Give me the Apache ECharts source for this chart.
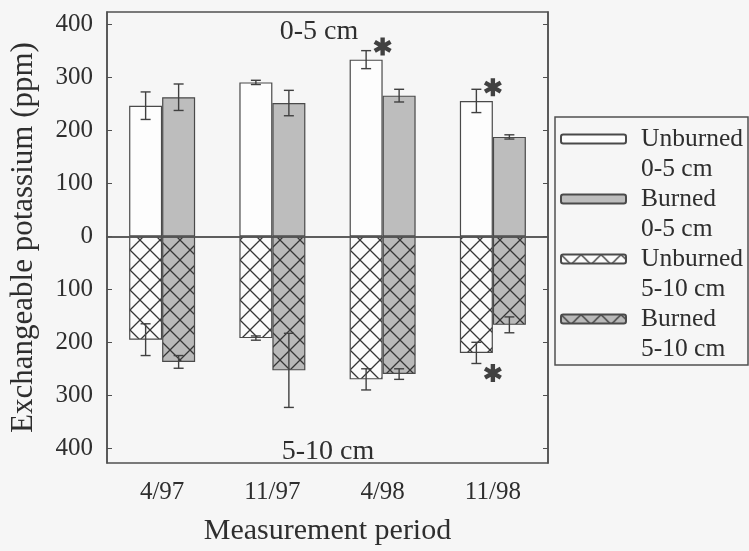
<!DOCTYPE html>
<html>
<head>
<meta charset="utf-8">
<script src="https://cdn.jsdelivr.net/npm/echarts@6/dist/echarts.min.js"></script>
<style>
  html, body { margin: 0; padding: 0; background: #f6f6f6; }
  #chart { width: 749px; height: 551px; }
</style>
</head>
<body>
<div id="chart"></div>
<script>
// values (ppm), 5-10 cm drawn downward
const categories = ['4/97', '11/97', '4/98', '11/98']
const unburnedTop = [247, 291, 334, 256]
const unburnedTopErr = [26, 4, 17, 22]
const burnedTop = [263, 252, 266, 188]
const burnedTopErr = [25, 24, 12, 4]
const unburnedSub = [195, 192, 270, 220]
const unburnedSubErr = [30, 4, 20, 20]
const burnedSub = [237, 253, 260, 167]
const burnedSubErr = [12, 70, 10, 15]
// significance marks: [category index, value]
const stars = [[2, 359], [3, 282], [3, -258]]
const yTicks = [-400, -300, -200, -100, 0, 100, 200, 300, 400]

const serif = 'Liberation Serif'
const ink = '#2e2e2e'
const barW = 33

function hatch(bg) {
  const c = document.createElement('canvas')
  c.width = 20; c.height = 20
  const g = c.getContext('2d')
  g.fillStyle = bg
  g.fillRect(0, 0, 20, 20)
  g.strokeStyle = '#363636'
  g.lineWidth = 1.3
  g.beginPath()
  g.moveTo(0, 0); g.lineTo(20, 20)
  g.moveTo(20, 0); g.lineTo(0, 20)
  g.stroke()
  return c
}

// six-armed asterisk shape for the symbol
function asteriskPath() {
  let p = ''
  for (let k = 0; k < 3; k++) {
    const a = Math.PI / 2 + k * Math.PI / 3
    const ca = Math.cos(a), sa = Math.sin(a)
    const pts = [[-1, -0.24], [1, -0.24], [1, 0.24], [-1, 0.24]].map(([x, y]) =>
      [(x * ca - y * sa).toFixed(3), (x * sa + y * ca).toFixed(3)])
    p += 'M' + pts.map(q => q.join(' ')).join(' L') + ' Z '
  }
  return 'path://' + p
}

function errSeries(means, errs, sign, side) {
  return {
    type: 'custom',
    z: 5,
    silent: true,
    data: means.map((m, i) => [i, sign * (m - errs[i]), sign * (m + errs[i])]),
    renderItem: function (params, api) {
      const x = api.coord([api.value(0), 0])[0] + side * barW / 2
      const y1 = api.coord([api.value(0), api.value(1)])[1]
      const y2 = api.coord([api.value(0), api.value(2)])[1]
      const st = { stroke: '#404040', lineWidth: 1.4 }
      return {
        type: 'group',
        children: [
          { type: 'line', shape: { x1: x, y1: y1, x2: x, y2: y2 }, style: st },
          { type: 'line', shape: { x1: x - 5, y1: y1, x2: x + 5, y2: y1 }, style: st },
          { type: 'line', shape: { x1: x - 5, y1: y2, x2: x + 5, y2: y2 }, style: st }
        ]
      }
    }
  }
}

const barBorder = { borderColor: '#4a4a4a', borderWidth: 1.2 }

option = {
  backgroundColor: '#f6f6f6',
  animation: false,
  textStyle: { fontFamily: serif, color: ink },
  grid: {
    left: 107, top: 12, right: 201, bottom: 83,
    show: true, borderColor: '#505050', borderWidth: 1.5
  },
  legend: {
    orient: 'vertical',
    left: 560, top: 94,
    padding: 0,
    itemGap: -30,
    itemWidth: 65, itemHeight: 9,
    formatter: name => '\n' + name,
    textStyle: { fontFamily: serif, fontSize: 25.5, lineHeight: 30, color: ink, padding: [0, 0, 0, 10] },
    data: ['Unburned\n0-5 cm', 'Burned\n0-5 cm', 'Unburned\n5-10 cm', 'Burned\n5-10 cm']
  },
  xAxis: {
    type: 'category',
    data: categories,
    name: 'Measurement period',
    nameLocation: 'middle',
    nameGap: 53,
    nameTextStyle: { fontFamily: serif, fontSize: 30, color: ink },
    axisLine: { lineStyle: { color: '#505050', width: 1.5 } },
    axisTick: { inside: true, alignWithLabel: true, length: 5, lineStyle: { color: '#505050' } },
    axisLabel: { fontFamily: serif, fontSize: 25, color: ink, margin: 17 }
  },
  yAxis: [{
    type: 'value',
    min: -428, max: 424,
    name: 'Exchangeable potassium (ppm)',
    nameLocation: 'middle',
    nameRotate: 90,
    nameGap: 68,
    nameTextStyle: { fontFamily: serif, fontSize: 31, color: ink },
    axisLine: { show: true, lineStyle: { color: '#505050', width: 1.5 } },
    axisTick: { show: true, inside: true, length: 5, customValues: yTicks, lineStyle: { color: '#505050' } },
    axisLabel: {
      fontFamily: serif, fontSize: 25, color: ink, margin: 14,
      customValues: yTicks,
      formatter: v => String(Math.abs(v))
    },
    splitLine: { show: false }
  }, {
    type: 'value',
    position: 'right',
    min: -428, max: 424,
    axisLine: { show: true, lineStyle: { color: '#505050', width: 1.5 } },
    axisTick: { show: true, inside: true, length: 5, customValues: yTicks, lineStyle: { color: '#505050' } },
    axisLabel: { show: false },
    splitLine: { show: false }
  }],
  series: [
    {
      name: 'Unburned\n0-5 cm', type: 'bar', stack: 'u', barWidth: barW, barGap: '0%',
      itemStyle: Object.assign({ color: '#fdfdfd' }, barBorder),
      data: unburnedTop
    },
    {
      name: 'Burned\n0-5 cm', type: 'bar', stack: 'b', barWidth: barW, barGap: '0%',
      itemStyle: Object.assign({ color: '#bdbdbd' }, barBorder),
      data: burnedTop
    },
    {
      name: 'Unburned\n5-10 cm', type: 'bar', stack: 'u', barWidth: barW, barGap: '0%',
      itemStyle: Object.assign({ color: { image: hatch('#fbfbfb'), repeat: 'repeat' } }, barBorder),
      data: unburnedSub.map(v => -v)
    },
    {
      name: 'Burned\n5-10 cm', type: 'bar', stack: 'b', barWidth: barW, barGap: '0%',
      itemStyle: Object.assign({ color: { image: hatch('#b9b9b9'), repeat: 'repeat' } }, barBorder),
      data: burnedSub.map(v => -v)
    },
    errSeries(unburnedTop, unburnedTopErr, 1, -1),
    errSeries(burnedTop, burnedTopErr, 1, 1),
    errSeries(unburnedSub, unburnedSubErr, -1, -1),
    errSeries(burnedSub, burnedSubErr, -1, 1),
    {
      type: 'scatter',
      z: 6,
      silent: true,
      symbol: asteriskPath(),
      symbolSize: 18,
      itemStyle: { color: '#141414' },
      data: stars,
      markLine: {
        silent: true,
        symbol: 'none',
        label: { show: false },
        lineStyle: { color: '#555', width: 1.5, type: 'solid' },
        data: [{ yAxis: 0 }]
      }
    }
  ],
  graphic: [
    { type: 'rect', shape: { x: 555, y: 117, width: 193, height: 248 },
      style: { fill: 'none', stroke: '#505050', lineWidth: 1.5 } },
    { type: 'text', x: 319, y: 32,
      style: { text: '0-5 cm', font: '28px "Liberation Serif"', fill: ink, align: 'center', verticalAlign: 'middle' } },
    { type: 'text', x: 328, y: 452,
      style: { text: '5-10 cm', font: '28px "Liberation Serif"', fill: ink, align: 'center', verticalAlign: 'middle' } }
  ]
};

echarts.init(document.getElementById('chart')).setOption(option);
</script>
</body>
</html>
